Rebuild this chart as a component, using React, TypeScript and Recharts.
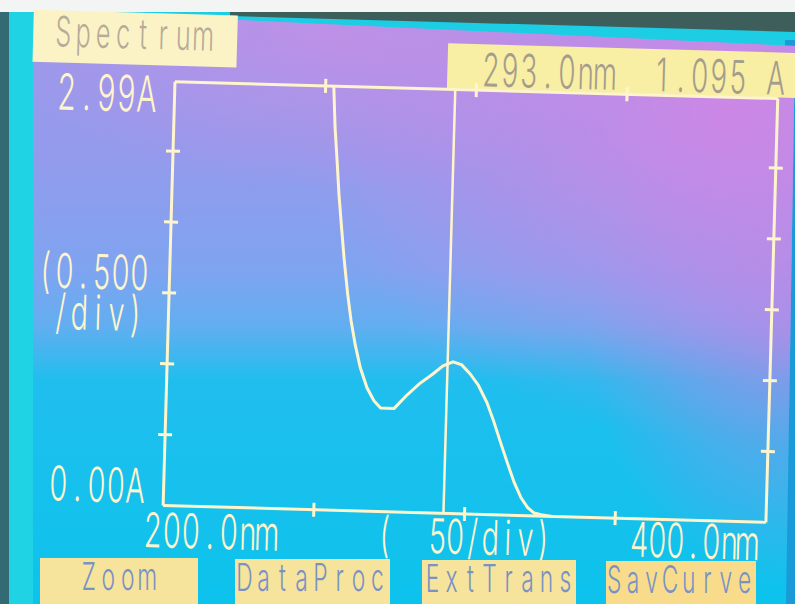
import React from 'react';
import { LineChart, Line, XAxis, YAxis, ReferenceLine } from 'recharts';

// Wavelength (nm) and absorbance (A)
const wavelengths = [252.7, 253.5, 254.5, 255.4, 256.6, 257.8, 259.2, 260.6, 262.2, 264.1, 266.5, 268.9, 271.2, 275.7, 279.5, 283.9, 288.2, 291.5, 294.8, 297.7, 300.5, 303.4, 306.4, 308.8, 311.3, 313.7, 316.2, 318.6, 320.9, 323.1, 325.4, 329.0];
const absorbance = [2.99, 2.70, 2.46, 2.23, 1.99, 1.76, 1.53, 1.34, 1.17, 1.01, 0.87, 0.78, 0.73, 0.73, 0.82, 0.91, 0.98, 1.04, 1.07, 1.05, 0.99, 0.91, 0.79, 0.66, 0.51, 0.37, 0.23, 0.125, 0.056, 0.02, 0.01, 0.0];

const cursorWavelength = 293.0;
const cursorAbsorbance = 1.095;

const xDomain = [200, 400];
const yDomain = [0, 2.99];
const xTicks = [200, 250, 300, 350, 400];
const xInnerTicks = [250, 300, 350];
const yTicks = [0, 0.5, 1.0, 1.5, 2.0, 2.5, 2.99];
const yInnerTicks = [0.5, 1.0, 1.5, 2.0, 2.5];

const title = 'Spectrum';
const buttons = ['Zoom', 'DataProc', 'ExtTrans', 'SavCurve'];

const data = wavelengths.map((wl, i) => ({ wl, a: absorbance[i] }));

const CREAM = '#fff5cc';
const FONT = 'Inter, DejaVu Sans Mono';

// Monospaced-cell text (emulates the instrument's fixed-pitch font)
const M = ({ x, y, pitch = 19, anchor = 'start', size = 48, sx = 0.6, fill = CREAM, text }: any) => {
  const chars = String(text).split('');
  const total = chars.length * pitch;
  const left = anchor === 'start' ? x : anchor === 'end' ? x - total : x - total / 2;
  const xs = chars.map((_, i) => (((i + 0.5) * pitch) / sx).toFixed(2)).join(' ');
  return (
    <text
      transform={`translate(${left},${y}) scale(${sx},1)`}
      x={xs}
      y={0}
      textAnchor="middle"
      fontFamily={FONT}
      fontWeight={300}
      fontSize={size}
      fill={fill}
      style={{ whiteSpace: 'pre' }}
    >
      {text}
    </text>
  );
};

const BottomTick = (props: any) => {
  const { x, y, payload } = props;
  const v = payload.value;
  return (
    <g>
      {xInnerTicks.includes(v) && (
        <line x1={x} y1={y - 7} x2={x} y2={y + 7} stroke={CREAM} strokeWidth={3} />
      )}
      {v === xDomain[0] && <M x={x - 19} y={y + 42} pitch={19} text={`${v.toFixed(1)}nm`} />}
      {v === 300 && (
        <M x={x} y={y + 40} pitch={17.6} anchor="middle" text={`(  ${xTicks[1] - xTicks[0]}/div)`} />
      )}
      {v === xDomain[1] && (
        <M x={x - 9} y={y + 38} pitch={18} anchor="end" text={`${v.toFixed(1)}nm`} />
      )}
    </g>
  );
};

const TopTick = (props: any) => {
  const { x, y, payload } = props;
  if (!xInnerTicks.includes(payload.value)) return <g />;
  return <line x1={x} y1={y - 7} x2={x} y2={y + 7} stroke={CREAM} strokeWidth={3} />;
};

const LeftTick = (props: any) => {
  const { x, y, payload } = props;
  const v = payload.value;
  return (
    <g>
      {yInnerTicks.includes(v) && (
        <line x1={x - 7} y1={y} x2={x + 7} y2={y} stroke={CREAM} strokeWidth={3} />
      )}
      {v === yDomain[1] && (
        <M x={x - 18} y={y + 31} pitch={20} anchor="end" size={50} text={`${v.toFixed(2)}A`} />
      )}
      {v === 0 && <M x={x - 19} y={y - 2} pitch={19.2} anchor="end" text={`${v.toFixed(2)}A`} />}
      {v === 1.5 && (
        <g>
          <M x={x - 21} y={y - 2} pitch={18.7} anchor="end" text="(0.500" />
          <M x={x - 24} y={y + 39} pitch={18.6} anchor="end" text="/div)" />
        </g>
      )}
    </g>
  );
};

const RightTick = (props: any) => {
  const { x, y, payload } = props;
  if (!yInnerTicks.includes(payload.value)) return <g />;
  return <line x1={x - 7} y1={y} x2={x + 7} y2={y} stroke={CREAM} strokeWidth={3} />;
};

const screenBg = [
  'radial-gradient(ellipse 430px 330px at 730px 110px, rgba(214,132,228,0.85), rgba(214,132,228,0) 100%)',
  'radial-gradient(ellipse 330px 160px at 330px 30px, rgba(210,140,228,0.6), rgba(210,140,228,0) 100%)',
  'radial-gradient(ellipse 200px 260px at 790px 330px, rgba(190,130,230,0.6), rgba(190,130,230,0) 100%)',
  'linear-gradient(to bottom, #a098ea 0%, #949aec 25%, #7ea4f0 45%, #62aef0 54%, #20beee 63%, #0cc3ec 100%)',
].join(', ');

const buttonBoxes = [
  [40, 558, 158, 79, 19.5],
  [235, 559, 155, 235, 19],
  [422, 560, 154, 423, 19],
  [606, 561, 150, 605, 18.6],
];

export default function App() {
  return (
    <div style={{ position: 'absolute', left: 0, top: 0, width: 795, height: 604, overflow: 'hidden', background: '#1ccde4' }}>
      {/* bezel */}
      <svg width={795} height={604} style={{ position: 'absolute', left: 0, top: 0 }}>
        <rect x={0} y={0} width={795} height={12} fill="#f3f5f5" />
        <rect x={0} y={12} width={9} height={592} fill="#336a74" />
        <rect x={9} y={12} width={24} height={592} fill="#1fd3e5" />
        <polygon points="230,12 795,12 795,32 230,16" fill="#3e5e5c" />
        <rect x={785} y={40} width={10} height={564} fill="#1a9ad8" />
      </svg>
      {/* screen */}
      <div
        style={{
          position: 'absolute',
          left: 0,
          top: 0,
          width: 795,
          height: 604,
          background: screenBg,
          clipPath: 'polygon(33px 14px, 240px 20px, 795px 46px, 786px 604px, 33px 604px)',
        }}
      />
      {/* rotated screen content */}
      <div
        style={{
          position: 'absolute',
          left: 0,
          top: 0,
          width: 795,
          height: 604,
          transform: 'rotate(1.6deg)',
          transformOrigin: '470px 300px',
        }}
      >
        <svg width={820} height={604} style={{ position: 'absolute', left: 0, top: 0, overflow: 'visible' }}>
          <rect x={26} y={22} width={204} height={52} fill="#fbf3c6" />
          <M x={46} y={58} pitch={20} size={42} fill="#b6ac9a" text={title} />
          <rect x={441} y={44} width={380} height={45} fill="#f8eea4" />
          <M
            x={475}
            y={86}
            pitch={19}
            size={46}
            fill="#a49d8e"
            text={`${cursorWavelength.toFixed(1)}nm  ${cursorAbsorbance.toFixed(3)} A`}
          />
        </svg>
        <div style={{ position: 'absolute', left: 0, top: 0 }}>
          <LineChart
            width={795}
            height={604}
            data={data}
            margin={{ top: 89, right: 22, bottom: 89, left: 168 }}
          >
            <XAxis
              dataKey="wl"
              type="number"
              domain={xDomain}
              ticks={xTicks}
              interval={0}
              allowDataOverflow
              height={1}
              tickSize={0}
              tickMargin={0}
              tickLine={false}
              axisLine={{ stroke: CREAM, strokeWidth: 3 }}
              tick={<BottomTick />}
            />
            <XAxis
              xAxisId="top"
              orientation="top"
              dataKey="wl"
              type="number"
              domain={xDomain}
              ticks={xTicks}
              interval={0}
              allowDataOverflow
              height={1}
              tickSize={0}
              tickMargin={0}
              tickLine={false}
              axisLine={{ stroke: CREAM, strokeWidth: 3 }}
              tick={<TopTick />}
            />
            <YAxis
              type="number"
              domain={yDomain}
              ticks={yTicks}
              interval={0}
              allowDataOverflow
              width={1}
              tickSize={0}
              tickMargin={0}
              tickLine={false}
              axisLine={{ stroke: CREAM, strokeWidth: 3 }}
              tick={<LeftTick />}
            />
            <YAxis
              yAxisId="right"
              orientation="right"
              type="number"
              domain={yDomain}
              ticks={yTicks}
              interval={0}
              allowDataOverflow
              width={1}
              tickSize={0}
              tickMargin={0}
              tickLine={false}
              axisLine={{ stroke: CREAM, strokeWidth: 3 }}
              tick={<RightTick />}
            />
            <ReferenceLine x={cursorWavelength} stroke={CREAM} strokeWidth={2.5} />
            <Line
              type="linear"
              dataKey="a"
              stroke={CREAM}
              strokeWidth={3}
              dot={false}
              isAnimationActive={false}
            />
          </LineChart>
        </div>
      </div>
      {/* soft-key buttons */}
      <svg width={795} height={604} style={{ position: 'absolute', left: 0, top: 0 }}>
        {buttons.map((b, i) => {
          const [bx, by, bw, tx, pitch] = buttonBoxes[i];
          return (
            <g key={b}>
              <rect x={bx} y={by} width={bw} height={60} fill={i === 3 ? '#f8dc8c' : '#f6e39c'} />
              <M x={tx} y={by + 32} pitch={pitch} size={38} fill="#7892c4" text={b} />
            </g>
          );
        })}
      </svg>
    </div>
  );
}
